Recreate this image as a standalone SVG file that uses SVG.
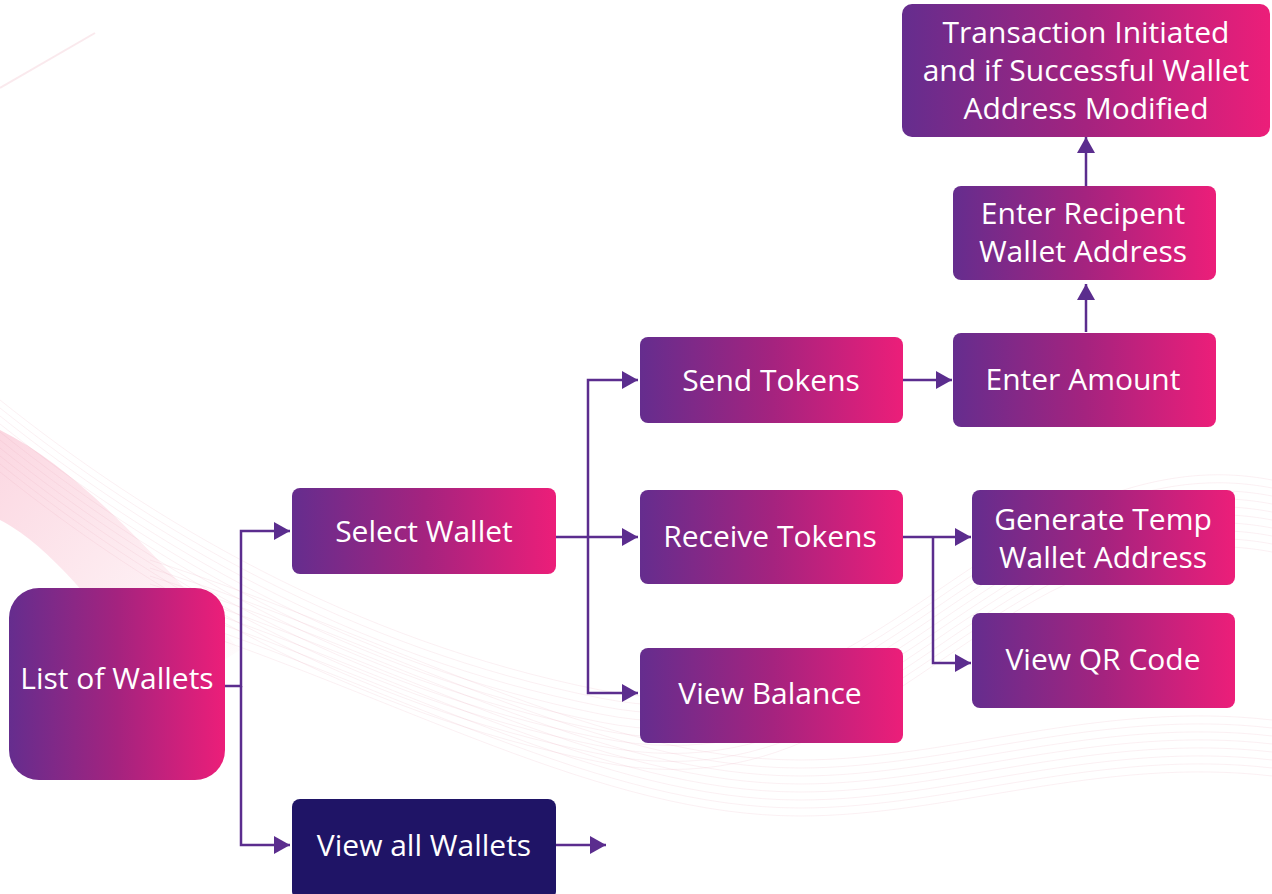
<svg xmlns="http://www.w3.org/2000/svg" xmlns:xlink="http://www.w3.org/1999/xlink" width="1272" height="894" viewBox="0 0 1272 894">
<defs>
<linearGradient id="g" x1="0" y1="0" x2="1" y2="0">
<stop offset="0" stop-color="#652d8e"/>
<stop offset="0.5" stop-color="#a4237f"/>
<stop offset="1" stop-color="#ec1e79"/>
</linearGradient>
<linearGradient id="bandg" x1="0" y1="0" x2="1" y2="1">
<stop offset="0" stop-color="#f7a6bd" stop-opacity="0.45"/>
<stop offset="1" stop-color="#f7a6bd" stop-opacity="0"/>
</linearGradient>
<marker id="arr" markerWidth="16" markerHeight="18" refX="16" refY="9" orient="auto" markerUnits="userSpaceOnUse" viewBox="0 0 16 18">
<path d="M0,0 L16,9 L0,18 Z" fill="#5b2d8e"/>
</marker>
<path id="wave" d="M0,400 C150,520 350,640 600,690 C800,730 900,600 1050,520 C1150,470 1220,470 1272,480" fill="none"/>
<path id="wave2" d="M150,560 C400,640 600,760 800,760 C950,760 1100,700 1272,720" fill="none"/>
</defs>
<style>
.node text{font-family:"Open Sans","Noto Sans","DejaVu Sans",sans-serif;font-size:30px;fill:#ffffff;text-anchor:middle}
.box{fill:url(#g)}
.conn path{fill:none;stroke:#5b2d8e;stroke-width:2.5}
.bg use{stroke:#e8a3b4;stroke-width:0.6;opacity:0.28}
</style>
<rect width="1272" height="894" fill="#ffffff"/>
<g class="bg">
<path d="M0,430 C80,470 160,560 240,650 L160,700 C100,600 40,540 0,520 Z" fill="url(#bandg)"/>
<path d="M0,88 L95,33" stroke="#f3c8d3" stroke-width="2" opacity="0.4" fill="none"/>
<use xlink:href="#wave" transform="translate(0,0)"/>
<use xlink:href="#wave" transform="translate(0,8)"/>
<use xlink:href="#wave" transform="translate(0,16)"/>
<use xlink:href="#wave" transform="translate(0,24)"/>
<use xlink:href="#wave" transform="translate(0,32)"/>
<use xlink:href="#wave" transform="translate(0,40)"/>
<use xlink:href="#wave" transform="translate(0,48)"/>
<use xlink:href="#wave" transform="translate(0,56)"/>
<use xlink:href="#wave" transform="translate(0,64)"/>
<use xlink:href="#wave" transform="translate(0,72)"/>
<use xlink:href="#wave2" transform="translate(0,0)"/>
<use xlink:href="#wave2" transform="translate(0,8)"/>
<use xlink:href="#wave2" transform="translate(0,16)"/>
<use xlink:href="#wave2" transform="translate(0,24)"/>
<use xlink:href="#wave2" transform="translate(0,32)"/>
<use xlink:href="#wave2" transform="translate(0,40)"/>
<use xlink:href="#wave2" transform="translate(0,48)"/>
<use xlink:href="#wave2" transform="translate(0,56)"/>
</g>
<g class="conn">
<path d="M225,686 H241 V531 H290" marker-end="url(#arr)"/>
<path d="M241,686 V845 H290" marker-end="url(#arr)"/>
<path d="M556,845 H606" marker-end="url(#arr)"/>
<path d="M556,537 H638" marker-end="url(#arr)"/>
<path d="M588,537 V380 H638" marker-end="url(#arr)"/>
<path d="M588,537 V693 H638" marker-end="url(#arr)"/>
<path d="M903,380 H952" marker-end="url(#arr)"/>
<path d="M1086,332 V284" marker-end="url(#arr)"/>
<path d="M1086,186 V137" marker-end="url(#arr)"/>
<path d="M903,537 H971" marker-end="url(#arr)"/>
<path d="M933,537 V663 H971" marker-end="url(#arr)"/>
</g>
<g class="node" id="list-of-wallets">
<rect class="box" x="9" y="588" width="216" height="192" rx="30"/>
<text x="117" y="689">List of Wallets</text>
</g>
<g class="node" id="select-wallet">
<rect class="box" x="292" y="488" width="264" height="86" rx="8"/>
<text x="424" y="542">Select Wallet</text>
</g>
<g class="node" id="view-all-wallets">
<rect x="292" y="799" width="264" height="100" rx="8" fill="#1f1466"/>
<text x="424" y="856">View all Wallets</text>
</g>
<g class="node" id="send-tokens">
<rect class="box" x="640" y="337" width="263" height="86" rx="8"/>
<text x="771" y="391">Send Tokens</text>
</g>
<g class="node" id="receive-tokens">
<rect class="box" x="640" y="490" width="263" height="94" rx="8"/>
<text x="770" y="547">Receive Tokens</text>
</g>
<g class="node" id="view-balance">
<rect class="box" x="640" y="648" width="263" height="95" rx="8"/>
<text x="770" y="704">View Balance</text>
</g>
<g class="node" id="enter-amount">
<rect class="box" x="953" y="333" width="263" height="94" rx="8"/>
<text x="1083" y="390">Enter Amount</text>
</g>
<g class="node" id="enter-recipient">
<rect class="box" x="953" y="186" width="263" height="94" rx="8"/>
<text x="1083" y="224">Enter Recipent</text>
<text x="1083" y="262">Wallet Address</text>
</g>
<g class="node" id="transaction">
<rect class="box" x="902" y="4" width="368" height="133" rx="10"/>
<text x="1086" y="43">Transaction Initiated</text>
<text x="1086" y="81">and if Successful Wallet</text>
<text x="1086" y="119">Address Modified</text>
</g>
<g class="node" id="generate-temp">
<rect class="box" x="972" y="490" width="263" height="95" rx="8"/>
<text x="1103" y="530">Generate Temp</text>
<text x="1103" y="568">Wallet Address</text>
</g>
<g class="node" id="view-qr">
<rect class="box" x="972" y="613" width="263" height="95" rx="8"/>
<text x="1103" y="670">View QR Code</text>
</g>
</svg>
